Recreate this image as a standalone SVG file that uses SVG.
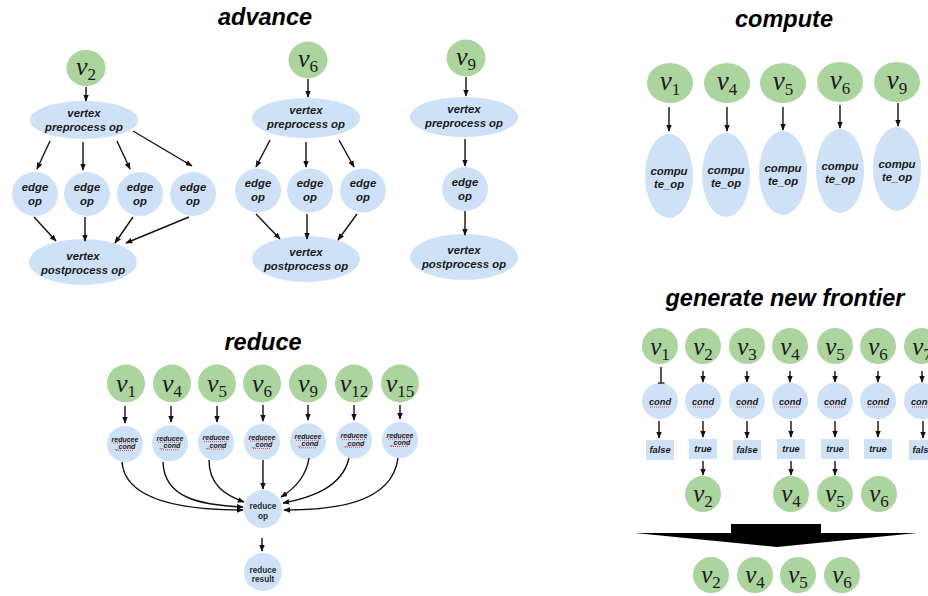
<svg xmlns="http://www.w3.org/2000/svg" width="928" height="596" viewBox="0 0 928 596">
  <defs>
    <marker id="arr" viewBox="0 0 10 8" refX="9" refY="4" markerWidth="7" markerHeight="5.6" orient="auto" markerUnits="userSpaceOnUse">
      <path d="M0,0 L10,4 L0,8 z" fill="#111"/>
    </marker>
    <marker id="bar" viewBox="0 0 2 8" refX="1" refY="4" markerWidth="2" markerHeight="7" orient="auto" markerUnits="userSpaceOnUse">
      <path d="M1,0 L1,8" stroke="#111" stroke-width="1.4"/>
    </marker>
  </defs>
  <style>
    .vn { fill: #abd49f; }
    .op { fill: #cee1f6; }
    .v { font-family: "Liberation Serif", "Times New Roman", serif; font-style: italic; font-size: 26px; fill: #1a1a1a; text-anchor: middle; }
    .v.s { font-size: 25px; }
    .v.l { font-size: 27px; }
    .sub { font-size: 17px; font-style: normal; }
    .title { font-family: "Liberation Sans", Arial, sans-serif; font-weight: bold; font-style: italic; font-size: 23.5px; fill: #000; text-anchor: middle; }
    .t { font-family: "Liberation Sans", Arial, sans-serif; font-weight: bold; font-style: italic; fill: #1a1a1a; text-anchor: middle; }
    .t11 { font-size: 11.3px; }
    .t9 { font-size: 9.3px; }
    .t7 { font-size: 7px; }
    .r { font-family: "Liberation Sans", Arial, sans-serif; font-weight: bold; font-size: 8.2px; fill: #2a2a2a; text-anchor: middle; }
    .sq { stroke: #e2352f; stroke-width: 0.9; stroke-dasharray: 1 1; fill: none; }
    .c { stroke: #111; stroke-width: 1.4; fill: none; marker-end: url(#arr); }
  </style>
  <rect width="928" height="596" fill="#fff"/>

  <!-- section titles -->
  <text class="title" x="265" y="25">advance</text>
  <text class="title" x="784" y="27">compute</text>
  <text class="title" x="263" y="350">reduce</text>
  <text class="title" x="785" y="306">generate new frontier</text>

  <!-- ============ advance ============ -->
  <g id="adv-v2"><ellipse class="vn" cx="86" cy="68" rx="19.5" ry="18"/><text class="v" x="86" y="75">v<tspan class="sub" dy="5">2</tspan></text></g>
  <g id="adv-pre1"><ellipse class="op" cx="84" cy="120" rx="54" ry="19"/><text class="t t11" x="84" y="117">vertex</text><text class="t t11" x="84" y="131">preprocess op</text></g>
  <g id="adv-e1"><ellipse class="op" cx="35" cy="194" rx="23" ry="22"/><text class="t t11" x="35" y="191">edge</text><text class="t t11" x="35" y="205">op</text></g>
  <g id="adv-e2"><ellipse class="op" cx="87" cy="194" rx="23" ry="22"/><text class="t t11" x="87" y="191">edge</text><text class="t t11" x="87" y="205">op</text></g>
  <g id="adv-e3"><ellipse class="op" cx="140" cy="194" rx="23" ry="22"/><text class="t t11" x="140" y="191">edge</text><text class="t t11" x="140" y="205">op</text></g>
  <g id="adv-e4"><ellipse class="op" cx="193" cy="194" rx="23" ry="22"/><text class="t t11" x="193" y="191">edge</text><text class="t t11" x="193" y="205">op</text></g>
  <g id="adv-post1"><ellipse class="op" cx="83" cy="262" rx="54" ry="23"/><text class="t t11" x="83" y="260">vertex</text><text class="t t11" x="83" y="274">postprocess op</text></g>

  <g id="adv-v6"><ellipse class="vn" cx="308" cy="60" rx="19.5" ry="18.5"/><text class="v" x="308" y="67">v<tspan class="sub" dy="5">6</tspan></text></g>
  <g id="adv-pre2"><ellipse class="op" cx="306" cy="118" rx="54" ry="20"/><text class="t t11" x="306" y="114">vertex</text><text class="t t11" x="306" y="128">preprocess op</text></g>
  <g id="adv-e5"><ellipse class="op" cx="258" cy="190.5" rx="23" ry="22"/><text class="t t11" x="258" y="187">edge</text><text class="t t11" x="258" y="201">op</text></g>
  <g id="adv-e6"><ellipse class="op" cx="310" cy="190.5" rx="23" ry="22"/><text class="t t11" x="310" y="187">edge</text><text class="t t11" x="310" y="201">op</text></g>
  <g id="adv-e7"><ellipse class="op" cx="363" cy="190.5" rx="23" ry="22"/><text class="t t11" x="363" y="187">edge</text><text class="t t11" x="363" y="201">op</text></g>
  <g id="adv-post2"><ellipse class="op" cx="306" cy="259" rx="54" ry="23"/><text class="t t11" x="306" y="256">vertex</text><text class="t t11" x="306" y="270">postprocess op</text></g>

  <g id="adv-v9"><ellipse class="vn" cx="466" cy="58" rx="19.5" ry="18.5"/><text class="v" x="466" y="65">v<tspan class="sub" dy="5">9</tspan></text></g>
  <g id="adv-pre3"><ellipse class="op" cx="464" cy="117" rx="54" ry="20"/><text class="t t11" x="464" y="113">vertex</text><text class="t t11" x="464" y="127">preprocess op</text></g>
  <g id="adv-e8"><ellipse class="op" cx="465" cy="189" rx="23" ry="22"/><text class="t t11" x="465" y="186">edge</text><text class="t t11" x="465" y="200">op</text></g>
  <g id="adv-post3"><ellipse class="op" cx="464" cy="257" rx="54" ry="23"/><text class="t t11" x="464" y="254">vertex</text><text class="t t11" x="464" y="268">postprocess op</text></g>

  <!-- ============ compute ============ -->
  <g id="cmp-v1"><ellipse class="vn" cx="670" cy="83" rx="23" ry="20"/><text class="v l" x="670" y="90">v<tspan class="sub" dy="5">1</tspan></text></g>
  <g id="cmp-v4"><ellipse class="vn" cx="727" cy="83" rx="23" ry="20"/><text class="v l" x="727" y="90">v<tspan class="sub" dy="5">4</tspan></text></g>
  <g id="cmp-v5"><ellipse class="vn" cx="783" cy="83" rx="23" ry="20"/><text class="v l" x="783" y="90">v<tspan class="sub" dy="5">5</tspan></text></g>
  <g id="cmp-v6"><ellipse class="vn" cx="840" cy="82" rx="23" ry="20"/><text class="v l" x="840" y="89">v<tspan class="sub" dy="5">6</tspan></text></g>
  <g id="cmp-v9"><ellipse class="vn" cx="897" cy="82" rx="23" ry="20"/><text class="v l" x="897" y="89">v<tspan class="sub" dy="5">9</tspan></text></g>
  <g id="cmp-op1"><ellipse class="op" cx="669" cy="176" rx="24" ry="42"/><text class="t t11" x="669" y="175">compu</text><text class="t t11" x="669" y="188">te_op</text></g>
  <g id="cmp-op4"><ellipse class="op" cx="726" cy="175" rx="24" ry="42"/><text class="t t11" x="726" y="174">compu</text><text class="t t11" x="726" y="187">te_op</text></g>
  <g id="cmp-op5"><ellipse class="op" cx="783" cy="173" rx="24" ry="42"/><text class="t t11" x="783" y="172">compu</text><text class="t t11" x="783" y="185">te_op</text></g>
  <g id="cmp-op6"><ellipse class="op" cx="840" cy="171" rx="24" ry="42"/><text class="t t11" x="840" y="170">compu</text><text class="t t11" x="840" y="183">te_op</text></g>
  <g id="cmp-op9"><ellipse class="op" cx="897" cy="169" rx="24" ry="42"/><text class="t t11" x="897" y="168">compu</text><text class="t t11" x="897" y="181">te_op</text></g>

  <!-- ============ reduce ============ -->
  <g id="red-v1"><circle class="vn" cx="126" cy="383.5" r="19"/><text class="v" x="126" y="392">v<tspan class="sub" dy="5">1</tspan></text></g>
  <g id="red-v4"><circle class="vn" cx="172" cy="383.5" r="19"/><text class="v" x="172" y="392">v<tspan class="sub" dy="5">4</tspan></text></g>
  <g id="red-v5"><circle class="vn" cx="217" cy="383.5" r="19"/><text class="v" x="217" y="392">v<tspan class="sub" dy="5">5</tspan></text></g>
  <g id="red-v6"><circle class="vn" cx="262" cy="383.5" r="19"/><text class="v" x="262" y="392">v<tspan class="sub" dy="5">6</tspan></text></g>
  <g id="red-v9"><circle class="vn" cx="308" cy="383.5" r="19"/><text class="v" x="308" y="392">v<tspan class="sub" dy="5">9</tspan></text></g>
  <g id="red-v12"><circle class="vn" cx="354" cy="383.5" r="19"/><text class="v" x="354" y="392">v<tspan class="sub" dy="5">12</tspan></text></g>
  <g id="red-v15"><circle class="vn" cx="400" cy="383.5" r="19"/><text class="v" x="400" y="392">v<tspan class="sub" dy="5">15</tspan></text></g>

  <g id="red-c1"><circle class="op" cx="125" cy="444" r="18"/><text class="t t7" x="125" y="441.5">reducee</text><text class="t t7" x="125" y="449">_cond</text><path class="sq" d="M113,443 H137 M116,450.5 H134"/></g>
  <g id="red-c4"><circle class="op" cx="170" cy="443.3" r="18"/><text class="t t7" x="170" y="440.8">reducee</text><text class="t t7" x="170" y="448.3">_cond</text><path class="sq" d="M158,442.3 H182 M161,449.8 H179"/></g>
  <g id="red-c5"><circle class="op" cx="216" cy="442.6" r="18"/><text class="t t7" x="216" y="440.1">reducee</text><text class="t t7" x="216" y="447.6">_cond</text><path class="sq" d="M204,441.6 H228 M207,449.1 H225"/></g>
  <g id="red-c6"><circle class="op" cx="262" cy="442" r="18"/><text class="t t7" x="262" y="439.5">reducee</text><text class="t t7" x="262" y="447">_cond</text><path class="sq" d="M250,441 H274 M253,448.5 H271"/></g>
  <g id="red-c9"><circle class="op" cx="308" cy="441.3" r="18"/><text class="t t7" x="308" y="438.8">reducee</text><text class="t t7" x="308" y="446.3">_cond</text><path class="sq" d="M296,440.3 H320 M299,447.8 H317"/></g>
  <g id="red-c12"><circle class="op" cx="354" cy="440.6" r="18"/><text class="t t7" x="354" y="438.1">reducee</text><text class="t t7" x="354" y="445.6">_cond</text><path class="sq" d="M342,439.6 H366 M345,447.1 H363"/></g>
  <g id="red-c15"><circle class="op" cx="400" cy="440" r="18"/><text class="t t7" x="400" y="437.5">reducee</text><text class="t t7" x="400" y="445">_cond</text><path class="sq" d="M388,439 H412 M391,446.5 H409"/></g>

  <g id="red-op"><circle class="op" cx="263" cy="509" r="19"/><text class="r" x="263" y="509">reduce</text><text class="r" x="263" y="519">op</text></g>
  <g id="red-result"><circle class="op" cx="263" cy="572" r="19"/><text class="r" x="263" y="572.5">reduce</text><text class="r" x="263" y="581.5">result</text></g>

  <!-- ============ generate new frontier ============ -->
  <g id="gen-v1"><circle class="vn" cx="660" cy="346" r="18"/><text class="v s" x="660" y="355">v<tspan class="sub" dy="5">1</tspan></text></g>
  <g id="gen-v2"><circle class="vn" cx="703" cy="346" r="18"/><text class="v s" x="703" y="355">v<tspan class="sub" dy="5">2</tspan></text></g>
  <g id="gen-v3"><circle class="vn" cx="747" cy="346" r="18"/><text class="v s" x="747" y="355">v<tspan class="sub" dy="5">3</tspan></text></g>
  <g id="gen-v4"><circle class="vn" cx="790" cy="346" r="18"/><text class="v s" x="790" y="355">v<tspan class="sub" dy="5">4</tspan></text></g>
  <g id="gen-v5"><circle class="vn" cx="835" cy="346" r="18"/><text class="v s" x="835" y="355">v<tspan class="sub" dy="5">5</tspan></text></g>
  <g id="gen-v6"><circle class="vn" cx="878" cy="346" r="18"/><text class="v s" x="878" y="355">v<tspan class="sub" dy="5">6</tspan></text></g>
  <g id="gen-v7"><circle class="vn" cx="922" cy="346" r="18"/><text class="v s" x="922" y="355">v<tspan class="sub" dy="5">7</tspan></text></g>

  <g id="gen-c1"><circle class="op" cx="660" cy="401" r="18"/><text class="t t9" x="660" y="405">cond</text><path class="sq" d="M650,407 H670"/></g>
  <g id="gen-c2"><circle class="op" cx="703" cy="401" r="18"/><text class="t t9" x="703" y="405">cond</text><path class="sq" d="M693,407 H713"/></g>
  <g id="gen-c3"><circle class="op" cx="747" cy="401" r="18"/><text class="t t9" x="747" y="405">cond</text><path class="sq" d="M737,407 H757"/></g>
  <g id="gen-c4"><circle class="op" cx="790" cy="401" r="18"/><text class="t t9" x="790" y="405">cond</text><path class="sq" d="M780,407 H800"/></g>
  <g id="gen-c5"><circle class="op" cx="835" cy="401" r="18"/><text class="t t9" x="835" y="405">cond</text><path class="sq" d="M825,407 H845"/></g>
  <g id="gen-c6"><circle class="op" cx="878" cy="401" r="18"/><text class="t t9" x="878" y="405">cond</text><path class="sq" d="M868,407 H888"/></g>
  <g id="gen-c7"><circle class="op" cx="922" cy="401" r="18"/><text class="t t9" x="922" y="405">cond</text><path class="sq" d="M912,407 H932"/></g>

  <g id="gen-r1"><rect class="op" x="646" y="440" width="28" height="20"/><text class="t t9" x="660" y="453">false</text></g>
  <g id="gen-r2"><rect class="op" x="689" y="439" width="28" height="20"/><text class="t t9" x="703" y="452">true</text></g>
  <g id="gen-r3"><rect class="op" x="733" y="440" width="28" height="20"/><text class="t t9" x="747" y="453">false</text></g>
  <g id="gen-r4"><rect class="op" x="777" y="439" width="28" height="20"/><text class="t t9" x="791" y="452">true</text></g>
  <g id="gen-r5"><rect class="op" x="821" y="439" width="28" height="20"/><text class="t t9" x="835" y="452">true</text></g>
  <g id="gen-r6"><rect class="op" x="864" y="439" width="28" height="20"/><text class="t t9" x="878" y="452">true</text></g>
  <g id="gen-r7"><rect class="op" x="909" y="440" width="28" height="20"/><text class="t t9" x="923" y="453">false</text></g>

  <g id="gen-o2"><circle class="vn" cx="703" cy="494" r="18"/><text class="v s" x="703" y="502">v<tspan class="sub" dy="5">2</tspan></text></g>
  <g id="gen-o4"><circle class="vn" cx="791" cy="494" r="18"/><text class="v s" x="791" y="502">v<tspan class="sub" dy="5">4</tspan></text></g>
  <g id="gen-o5"><circle class="vn" cx="835" cy="494" r="18"/><text class="v s" x="835" y="502">v<tspan class="sub" dy="5">5</tspan></text></g>
  <g id="gen-o6"><circle class="vn" cx="879" cy="494" r="18"/><text class="v s" x="879" y="502">v<tspan class="sub" dy="5">6</tspan></text></g>

  <g id="gen-merge"><polygon points="635,533 731,533 731,524 821,524 821,533 917,533 777,547" fill="#000"/></g>

  <g id="gen-f2"><circle class="vn" cx="711" cy="575" r="18"/><text class="v s" x="711" y="583">v<tspan class="sub" dy="5">2</tspan></text></g>
  <g id="gen-f4"><circle class="vn" cx="755" cy="575" r="18"/><text class="v s" x="755" y="583">v<tspan class="sub" dy="5">4</tspan></text></g>
  <g id="gen-f5"><circle class="vn" cx="798" cy="575" r="18"/><text class="v s" x="798" y="583">v<tspan class="sub" dy="5">5</tspan></text></g>
  <g id="gen-f6"><circle class="vn" cx="842" cy="575" r="18"/><text class="v s" x="842" y="583">v<tspan class="sub" dy="5">6</tspan></text></g>

  <!-- ============ connectors ============ -->
  <g id="connectors">
    <!-- advance, first vertex -->
    <line class="c" x1="86" y1="87" x2="86" y2="101"/>
    <line class="c" x1="50" y1="141" x2="37" y2="169"/>
    <line class="c" x1="83" y1="142" x2="83" y2="170"/>
    <line class="c" x1="117" y1="141" x2="130" y2="169"/>
    <line class="c" x1="133" y1="131" x2="192" y2="166"/>
    <line class="c" x1="34" y1="217" x2="56" y2="241"/>
    <line class="c" x1="85" y1="217" x2="85" y2="241"/>
    <line class="c" x1="133" y1="217" x2="115" y2="243"/>
    <line class="c" x1="189" y1="217" x2="126" y2="243"/>
    <!-- advance, second vertex -->
    <line class="c" x1="308" y1="79" x2="308" y2="97"/>
    <line class="c" x1="270" y1="140" x2="256" y2="167"/>
    <line class="c" x1="306" y1="142" x2="306" y2="167"/>
    <line class="c" x1="339" y1="140" x2="354" y2="167"/>
    <line class="c" x1="256" y1="214" x2="280" y2="239"/>
    <line class="c" x1="307" y1="214" x2="307" y2="239"/>
    <line class="c" x1="357" y1="214" x2="338" y2="240"/>
    <!-- advance, third vertex -->
    <line class="c" x1="466" y1="77" x2="466" y2="96"/>
    <line class="c" x1="465" y1="139" x2="465" y2="166"/>
    <line class="c" x1="465" y1="211" x2="465" y2="235"/>
    <!-- compute -->
    <line class="c" x1="669" y1="107" x2="669" y2="131"/>
    <line class="c" x1="727" y1="107" x2="727" y2="131"/>
    <line class="c" x1="783" y1="107" x2="783" y2="130"/>
    <line class="c" x1="840" y1="105" x2="840" y2="128"/>
    <line class="c" x1="898" y1="103" x2="898" y2="126"/>
    <!-- reduce -->
    <line class="c" x1="125" y1="406" x2="125" y2="423"/>
    <line class="c" x1="171" y1="406" x2="171" y2="422"/>
    <line class="c" x1="217" y1="406" x2="217" y2="422"/>
    <line class="c" x1="263" y1="405" x2="263" y2="421"/>
    <line class="c" x1="308" y1="405" x2="308" y2="420"/>
    <line class="c" x1="354" y1="405" x2="354" y2="420"/>
    <line class="c" x1="400" y1="405" x2="400" y2="419"/>
    <path class="c" d="M122,462 C125,500 180,510 243,510"/>
    <path class="c" d="M163,462 C164,498 200,505 243,507"/>
    <path class="c" d="M209,460 C209,485 225,495 244,502"/>
    <path class="c" d="M263,460 L263,489"/>
    <path class="c" d="M309,458 C306,478 294,489 281,497"/>
    <path class="c" d="M349,458 C342,488 310,498 283,503"/>
    <path class="c" d="M398,458 C392,505 330,510 284,510"/>
    <line class="c" x1="262" y1="538" x2="262" y2="551"/>
    <!-- generate new frontier -->
    <line x1="661" y1="367" x2="661" y2="383" stroke="#111" stroke-width="1.4" marker-end="url(#bar)"/>
    <line class="c" x1="703" y1="371" x2="703" y2="382"/>
    <line class="c" x1="747" y1="371" x2="747" y2="382"/>
    <line class="c" x1="790" y1="371" x2="790" y2="382"/>
    <line class="c" x1="835" y1="371" x2="835" y2="382"/>
    <line class="c" x1="878" y1="371" x2="878" y2="382"/>
    <line class="c" x1="922" y1="371" x2="922" y2="382"/>
    <line class="c" x1="659" y1="421" x2="659" y2="438"/>
    <line class="c" x1="703" y1="421" x2="703" y2="437"/>
    <line class="c" x1="747" y1="421" x2="747" y2="438"/>
    <line class="c" x1="791" y1="421" x2="791" y2="437"/>
    <line class="c" x1="835" y1="421" x2="835" y2="437"/>
    <line class="c" x1="878" y1="421" x2="878" y2="437"/>
    <line class="c" x1="923" y1="421" x2="923" y2="438"/>
    <line class="c" x1="703" y1="461" x2="703" y2="475"/>
    <line class="c" x1="791" y1="461" x2="791" y2="475"/>
    <line class="c" x1="835" y1="461" x2="835" y2="475"/>
  </g>
</svg>
